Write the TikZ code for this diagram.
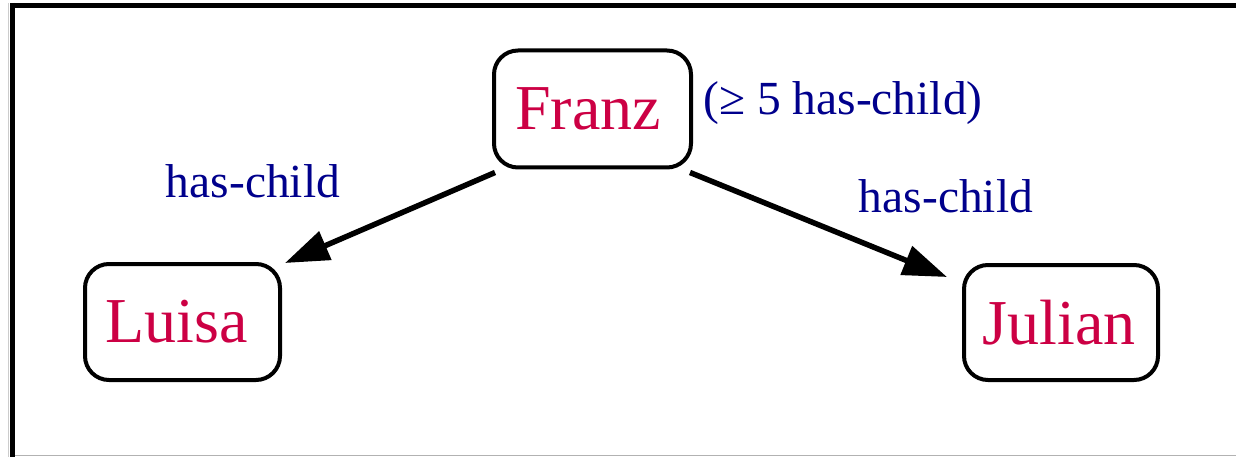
\documentclass[tikz,border=0pt]{standalone}
\usepackage{fontspec}
\setmainfont{Liberation Serif}
\usetikzlibrary{arrows.meta,calc}
\definecolor{namered}{RGB}{204,0,68}
\definecolor{labelblue}{RGB}{0,0,140}
\tikzset{
  person/.style={draw=black, line width=4pt, rounded corners=24pt, text=namered,
    font=\fontsize{64}{70}\selectfont, inner sep=0pt},
  rel/.style={text=labelblue, font=\fontsize{47.5}{52}\selectfont, inner sep=0pt},
  edge/.style={line width=5.5pt, -{Triangle[length=44pt,width=30pt]}},
}
\begin{document}
\begin{tikzpicture}[x=1pt,y=-1pt]
\useasboundingbox (0,0) rectangle (1236,457);
% frame
\draw[gray!40, line width=1.5pt] (8.5,3) -- (8.5,457);
\draw[gray!60, line width=1.5pt] (10,455.5) -- (1236,455.5);
\draw[black, line width=5pt] (10,5.5) -- (1236,5.5);
\draw[black, line width=5pt] (12.5,3) -- (12.5,457);
% nodes
\node[person, minimum width=197pt, minimum height=117pt] (franz) at (592.5,109) {Franz\hspace*{9pt}};
\node[person, minimum width=195pt, minimum height=116pt] (luisa) at (182.5,322) {Luisa\hspace*{12pt}};
\node[person, minimum width=194pt, minimum height=115pt] (julian) at (1061,322.5) {Julian\hspace*{4pt}};
% labels
\node[rel] (card) at (843,103) {(≥ 5 has-child)};
\node[rel] (lab1) at (253,181) {has-child};
\node[rel] (lab2) at (946,196) {has-child};
% edges
\draw[edge] ($(franz.south west)+(3,3)$) -- ($(luisa.north east)+(3,1)$);
\draw[edge] ($(franz.south east)+(-3,3)$) -- ($(julian.north west)+(-15,14)$);
\end{tikzpicture}
\end{document}
